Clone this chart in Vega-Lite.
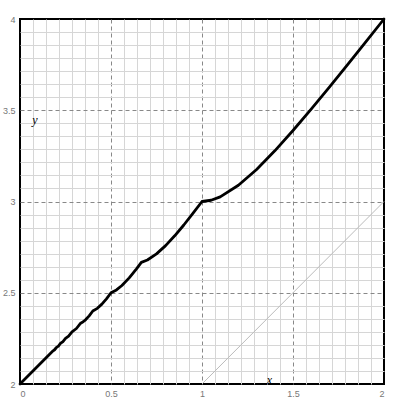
{
  "$schema": "https://vega.github.io/schema/vega-lite/v6.json",
  "autosize": {"type": "none"},
  "padding": {"left": 20, "top": 19, "right": 21, "bottom": 21},
  "width": 364,
  "height": 365,
  "background": "white",
  "config": {"view": {"stroke": "black", "strokeWidth": 2}},
  "datasets": {
    "curve": [
      {"x": 0, "y": 2},
      {"x": 0.1818, "y": 2.1818},
      {"x": 0.19, "y": 2.1877},
      {"x": 0.2, "y": 2.2},
      {"x": 0.211, "y": 2.2082},
      {"x": 0.2222, "y": 2.2222},
      {"x": 0.236, "y": 2.2325},
      {"x": 0.25, "y": 2.25},
      {"x": 0.267, "y": 2.2625},
      {"x": 0.2857, "y": 2.2857},
      {"x": 0.31, "y": 2.3041},
      {"x": 0.3333, "y": 2.3333},
      {"x": 0.345, "y": 2.3396},
      {"x": 0.36, "y": 2.3518},
      {"x": 0.38, "y": 2.3735},
      {"x": 0.4, "y": 2.4},
      {"x": 0.425, "y": 2.4146},
      {"x": 0.45, "y": 2.4377},
      {"x": 0.475, "y": 2.4667},
      {"x": 0.5, "y": 2.5},
      {"x": 0.53, "y": 2.5154},
      {"x": 0.56, "y": 2.5396},
      {"x": 0.6, "y": 2.5815},
      {"x": 0.64, "y": 2.6309},
      {"x": 0.6667, "y": 2.6667},
      {"x": 0.7, "y": 2.6796},
      {"x": 0.75, "y": 2.713},
      {"x": 0.8, "y": 2.7583},
      {"x": 0.85, "y": 2.8119},
      {"x": 0.9, "y": 2.8712},
      {"x": 0.95, "y": 2.9343},
      {"x": 1, "y": 3},
      {"x": 1.05, "y": 3.0069},
      {"x": 1.1, "y": 3.0256},
      {"x": 1.2, "y": 3.0889},
      {"x": 1.3, "y": 3.1757},
      {"x": 1.4, "y": 3.2776},
      {"x": 1.5, "y": 3.3889},
      {"x": 1.6, "y": 3.5063},
      {"x": 1.7, "y": 3.6273},
      {"x": 1.8, "y": 3.7506},
      {"x": 1.9, "y": 3.8751},
      {"x": 2, "y": 4}
    ],
    "diag": [
      {"x": 1, "y": 2},
      {"x": 2, "y": 3}
    ],
    "titles": [
      {"x": 0.082, "y": 3.427, "t": "y"},
      {"x": 1.37, "y": 2.0, "t": "x"}
    ]
  },
  "layer": [
    {
      "data": {"name": "diag"},
      "mark": {"type": "line", "color": "#bbbbbb", "strokeWidth": 1},
      "encoding": {
        "x": {
          "field": "x", "type": "quantitative",
          "scale": {"domain": [0, 2], "nice": false, "zero": false},
          "axis": {
            "values": [0, 0.0714286, 0.1428571, 0.2142857, 0.2857143, 0.3571429, 0.4285714, 0.5, 0.5714286, 0.6428571, 0.7142857, 0.7857143, 0.8571429, 0.9285714, 1, 1.0714286, 1.1428571, 1.2142857, 1.2857143, 1.3571429, 1.4285714, 1.5, 1.5714286, 1.6428571, 1.7142857, 1.7857143, 1.8571429, 1.9285714, 2],
            "tickCount": 200,
            "title": null,
            "domain": false,
            "ticks": false,
            "grid": true,
            "gridColor": {"condition": {"test": "abs(datum.value*2-round(datum.value*2))<0.001", "value": "#888888"}, "value": "#d6d6d6"},
            "gridDash": {"condition": {"test": "abs(datum.value*2-round(datum.value*2))<0.001", "value": [4, 3]}, "value": []},
            "gridOpacity": {"condition": {"test": "datum.value<0.01||datum.value>1.99", "value": 0}, "value": 1},
            "gridWidth": 1,
            "labelExpr": "abs(datum.value*2-round(datum.value*2))<0.001 ? toString(round(datum.value*2)/2) : ''",
            "labelOverlap": false,
            "labelFont": "Liberation Sans",
            "labelFontSize": 9,
            "labelColor": "#777777",
            "labelPadding": 5
          }
        },
        "y": {
          "field": "y", "type": "quantitative",
          "scale": {"domain": [2, 4], "nice": false, "zero": false},
          "axis": {
            "values": [2, 2.0714286, 2.1428571, 2.2142857, 2.2857143, 2.3571429, 2.4285714, 2.5, 2.5714286, 2.6428571, 2.7142857, 2.7857143, 2.8571429, 2.9285714, 3, 3.0714286, 3.1428571, 3.2142857, 3.2857143, 3.3571429, 3.4285714, 3.5, 3.5714286, 3.6428571, 3.7142857, 3.7857143, 3.8571429, 3.9285714, 4],
            "tickCount": 200,
            "title": null,
            "domain": false,
            "ticks": false,
            "grid": true,
            "gridColor": {"condition": {"test": "abs(datum.value*2-round(datum.value*2))<0.001", "value": "#888888"}, "value": "#d6d6d6"},
            "gridDash": {"condition": {"test": "abs(datum.value*2-round(datum.value*2))<0.001", "value": [4, 3]}, "value": []},
            "gridOpacity": {"condition": {"test": "datum.value<2.01||datum.value>3.99", "value": 0}, "value": 1},
            "gridWidth": 1,
            "labelExpr": "abs(datum.value*2-round(datum.value*2))<0.001 ? toString(round(datum.value*2)/2) : ''",
            "labelOverlap": false,
            "labelFont": "Liberation Sans",
            "labelFontSize": 9,
            "labelColor": "#777777",
            "labelPadding": 5
          }
        }
      }
    },
    {
      "data": {"name": "curve"},
      "mark": {"type": "line", "color": "black", "strokeWidth": 2.8, "strokeJoin": "round", "strokeCap": "round"},
      "encoding": {
        "x": {"field": "x", "type": "quantitative"},
        "y": {"field": "y", "type": "quantitative"}
      }
    },
    {
      "data": {"name": "titles"},
      "mark": {"type": "text", "font": "Liberation Serif", "fontStyle": "italic", "fontSize": 12, "baseline": "alphabetic", "align": "center", "color": "black"},
      "encoding": {
        "x": {"field": "x", "type": "quantitative"},
        "y": {"field": "y", "type": "quantitative"},
        "text": {"field": "t"}
      }
    }
  ]
}
